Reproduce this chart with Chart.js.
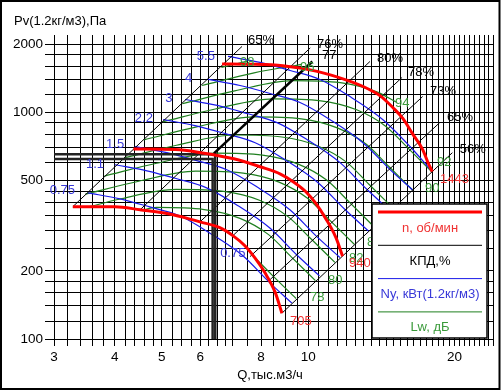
<!DOCTYPE html>
<html>
<head>
<meta charset="utf-8">
<script src="https://cdn.jsdelivr.net/npm/chart.js@4.4.1/dist/chart.umd.min.js"></script>
<style>
  html, body { margin: 0; padding: 0; background: #fff; }
</style>
</head>
<body>
<canvas id="fan" width="502" height="391"></canvas>
<script>
// --- axes ---
const xGrid = [3, 3.2, 3.4, 3.6, 3.8, 4, 4.2, 4.4, 4.6, 4.8, 5, 5.25, 5.5, 5.75, 6, 6.25, 6.5, 6.75, 7, 7.5,
  8, 8.5, 9, 9.5, 10, 10.5, 11, 11.5, 12, 12.5, 13, 13.5, 14, 14.5, 15, 15.5, 16, 16.5, 17, 17.5,
  18, 18.5, 19, 19.5, 20, 20.5, 21, 21.5, 22, 22.5, 23, 23.5, 24];
const xLabels = [3, 4, 5, 6, 8, 10, 20];
const yGrid = [100, 120, 140, 160, 180, 200, 250, 300, 350, 400, 450, 500, 600, 700, 800, 900,
  1000, 1200, 1400, 1600, 1800, 2000];
const yLabels = [100, 200, 500, 1000, 2000];

// --- fan curves n, rpm  [Q, Pv] ---
const n705 = [[3.28, 384], [4.0, 384], [4.51, 372], [5.27, 354], [5.99, 329], [6.58, 310], [7.0, 286],
  [7.41, 258], [7.77, 228], [8.15, 196], [8.55, 161], [8.83, 130]];
const n940 = [[4.37, 690], [5.33, 686], [6.01, 665], [7.03, 625], [7.99, 575], [8.77, 535], [9.33, 494],
  [9.88, 448], [10.36, 398], [10.87, 340], [11.4, 281], [11.77, 232]];
const n1443 = [[6.65, 1640], [7.5, 1635], [8.87, 1610], [10.43, 1520], [12.0, 1390], [13.2, 1280],
  [14.07, 1185], [14.95, 1050], [15.67, 940], [16.4, 805], [17.2, 686], [17.65, 600], [18.0, 548]];

// --- efficiency lines ---
const eff65a = [[3.28, 384], [7.31, 1959]];
const eff76 = [[4.51, 372], [10.1, 1930]];
const eff80 = [[5.99, 329], [13.4, 1681]];
const eff78 = [[7.0, 286], [15.6, 1429]];
const eff73 = [[7.59, 231], [17.2, 1177]];
const eff65b = [[8.35, 183], [18.65, 903]];
const eff56 = [[8.83, 130], [19.8, 665]];
const sysLine = [[6.4, 660], [10.2, 1680]];
const opA = [[3, 654], [6.44, 654], [6.44, 100]];
const opB = [[3, 624], [6.36, 624], [6.36, 100]];

// --- power Ny, kW ---
const ny075 = [[3.52, 442], [4.10, 416], [4.72, 383], [5.44, 350], [6.27, 294], [7.34, 233], [8.34, 177], [9.26, 144]];
const ny11 = [[4.0, 588], [4.66, 553], [5.37, 510], [6.18, 465], [7.13, 391], [8.34, 309], [9.48, 235], [10.55, 190]];
const ny15 = [[4.40, 707], [5.12, 665], [5.90, 613], [6.80, 559], [7.84, 470], [9.17, 372], [10.42, 283], [11.62, 229]];
const ny22 = [[5.03, 931], [5.85, 876], [6.75, 807], [7.78, 736], [8.96, 619], [10.48, 490], [11.92, 372], [13.3, 300]];
const ny3 = [[5.58, 1142], [6.50, 1075], [7.49, 990], [8.63, 903], [9.94, 760], [11.63, 601], [13.22, 457], [14.75, 368]];
const ny4 = [[6.22, 1400], [7.24, 1317], [8.35, 1214], [9.62, 1107], [11.08, 931], [12.96, 736], [14.74, 560], [16.4, 455]];
const ny55 = [[6.84, 1769], [7.96, 1665], [9.18, 1534], [10.57, 1399], [12.19, 1176], [14.25, 930], [16.20, 708], [18.0, 548]];

// --- sound power Lw, dB ---
const lw78 = [[7.75, 230], [8.42, 192], [9.44, 151]];
const lw80 = [[4.52, 369], [4.88, 381], [6.11, 373], [7.24, 341], [8.29, 289], [9.24, 230], [10.35, 181]];
const lw82 = [[3.55, 384], [4.06, 413], [5.35, 458], [6.70, 449], [7.94, 410], [9.09, 347], [10.13, 277], [11.35, 218]];
const lw84 = [[3.48, 436], [4.46, 496], [5.87, 551], [7.35, 540], [8.71, 493], [9.97, 418], [11.1, 333], [12.44, 262]];
const lw86 = [[3.81, 524], [4.88, 597], [6.43, 662], [8.05, 649], [9.54, 592], [10.93, 502], [12.18, 400], [13.64, 314]];
const lw88 = [[4.18, 630], [5.36, 717], [7.05, 796], [8.83, 780], [10.47, 712], [11.99, 604], [13.35, 481], [14.96, 378]];
const lw90 = [[4.59, 757], [5.87, 862], [7.73, 957], [9.68, 938], [11.48, 856], [13.15, 726], [14.64, 579], [16.4, 455]];
const lw92 = [[5.03, 910], [6.44, 1037], [8.48, 1150], [10.62, 1127], [12.58, 1029], [14.41, 873], [16.05, 696], [17.98, 546]];
const lw94 = [[5.51, 1094], [7.06, 1246], [9.30, 1383], [11.64, 1355], [13.8, 1237], [15.2, 1110]];
const lw96 = [[6.05, 1316], [7.74, 1498], [9.7, 1633]];
const lw98 = [[6.63, 1582], [7.5, 1687]];

// --- curve labels [text, Q, Pv] ---
const effLabels = [['65%', 7.52, 2083], ['76%', 10.43, 2000], ['77', 10.68, 1788], ['80%', 13.85, 1734],
  ['78%', 16.05, 1503], ['73%', 17.81, 1239], ['65%', 19.31, 950], ['56%', 20.5, 686]];
const nyLabels = [['5.5', 5.90, 1769], ['4', 5.58, 1414], ['3', 5.08, 1153], ['2.2', 4.40, 941],
  ['1.5', 3.84, 722], ['1.1', 3.49, 589], ['0.75', 2.94, 452], ['0.75', 6.59, 238]];
const rpmLabels = [['1443', 18.68, 505], ['940', 12.14, 215], ['705', 9.18, 119]];
const lwLabels = [['98', 7.24, 1664], ['96', 9.62, 1582], ['94', 15.09, 1096], ['92', 18.41, 601],
  ['90', 17.40, 461], ['84', 13.22, 266], ['82', 12.14, 226], ['80', 10.99, 182], ['78', 10.09, 152]];

const FONT = '"Liberation Sans", Arial, sans-serif';
const RED = '#ff0000', BLUE = '#1a1ae8', GREEN = '#1f7f1f';
const RED_T = '#f03232', BLUE_T = '#3838d8', GREEN_T = '#3a9a3a';

function curve(pts, color, width, order, straight) {
  return {
    data: pts.map(([x, y]) => ({ x, y })),
    borderColor: color,
    borderWidth: width,
    pointRadius: 0,
    fill: false,
    order,
    tension: 0,
    cubicInterpolationMode: straight ? 'default' : 'monotone'
  };
}

const datasets = [
  ...[n705, n940, n1443].map(d => curve(d, RED, 3, 1)),
  curve(sysLine, '#000', 2.5, 2, true),
  curve(opA, '#222', 2.5, 2, true),
  curve(opB, '#222', 2.5, 2, true),
  ...[eff65a, eff76, eff80, eff78, eff73, eff65b, eff56].map(d => curve(d, '#000', 1, 3, true)),
  ...[ny075, ny11, ny15, ny22, ny3, ny4, ny55].map(d => curve(d, BLUE, 1.2, 4)),
  ...[lw78, lw80, lw82, lw84, lw86, lw88, lw90, lw92, lw94, lw96, lw98].map(d => curve(d, GREEN, 1.2, 5))
];

const overlay = {
  id: 'overlay',
  afterDraw(chart) {
    const { ctx, scales: { x, y } } = chart;
    ctx.save();
    ctx.textBaseline = 'middle';
    ctx.textAlign = 'left';
    ctx.font = '13px ' + FONT;
    const put = (list, color) => {
      ctx.fillStyle = color;
      list.forEach(([t, q, p]) => ctx.fillText(t, x.getPixelForValue(q), y.getPixelForValue(p)));
    };
    put(effLabels, '#000');
    put(nyLabels, BLUE_T);
    put(lwLabels, GREEN_T);
    put(rpmLabels, RED_T);

    // legend box
    ctx.fillStyle = '#fff';
    ctx.fillRect(372, 204, 115, 134);
    ctx.strokeStyle = '#000';
    ctx.lineWidth = 1.5;
    ctx.strokeRect(372, 204, 115, 134);
    const rows = [
      [RED, 3, 'n, об/мин', RED_T],
      ['#000', 1, 'КПД,%', '#000'],
      [BLUE, 1, 'Ny, кВт(1.2кг/м3)', BLUE_T],
      [GREEN, 1, 'Lw, дБ', GREEN_T]
    ];
    ctx.textAlign = 'center';
    rows.forEach(([c, w, t, tc], i) => {
      const ly = 212 + i * 33.3;
      ctx.strokeStyle = c;
      ctx.lineWidth = w;
      ctx.beginPath();
      ctx.moveTo(378, ly);
      ctx.lineTo(482, ly);
      ctx.stroke();
      ctx.fillStyle = tc;
      ctx.fillText(t, 430, ly + 16);
    });

    // titles
    ctx.fillStyle = '#000';
    ctx.textAlign = 'left';
    ctx.fillText('Pv(1.2кг/м3),Па', 14, 21);
    ctx.textAlign = 'center';
    ctx.fillText('Q,тыс.м3/ч', 270, 375);

    // frame
    ctx.strokeStyle = '#000';
    ctx.lineWidth = 2;
    ctx.strokeRect(1, 1, 498.5, 388);
    ctx.restore();
  }
};

new Chart(document.getElementById('fan'), {
  type: 'line',
  data: { datasets },
  plugins: [overlay],
  options: {
    responsive: false,
    animation: false,
    devicePixelRatio: 1,
    layout: { padding: { left: 0, right: 9, top: 35, bottom: 0 } },
    plugins: { legend: { display: false }, tooltip: { enabled: false } },
    scales: {
      x: {
        type: 'logarithmic',
        min: 3, max: 24,
        afterBuildTicks: s => { s.ticks = xGrid.map(v => ({ value: v })); },
        afterFit: s => { s.height = 52; },
        border: { display: false },
        grid: { color: '#000', lineWidth: 1, tickLength: 7 },
        ticks: {
          autoSkip: false, maxRotation: 0, padding: 3, color: '#000',
          font: { family: FONT, size: 13.5 },
          callback: v => xLabels.includes(v) ? String(v) : ''
        }
      },
      y: {
        type: 'logarithmic',
        min: 100, max: 2200,
        afterBuildTicks: s => { s.ticks = yGrid.map(v => ({ value: v })); },
        afterFit: s => { s.width = 54; },
        border: { display: false },
        grid: { color: '#000', lineWidth: 1, tickLength: 9 },
        ticks: {
          autoSkip: false, padding: 2, color: '#000',
          font: { family: FONT, size: 13.5 },
          callback: v => yLabels.includes(v) ? String(v) : ''
        }
      }
    }
  }
});
</script>
</body>
</html>
